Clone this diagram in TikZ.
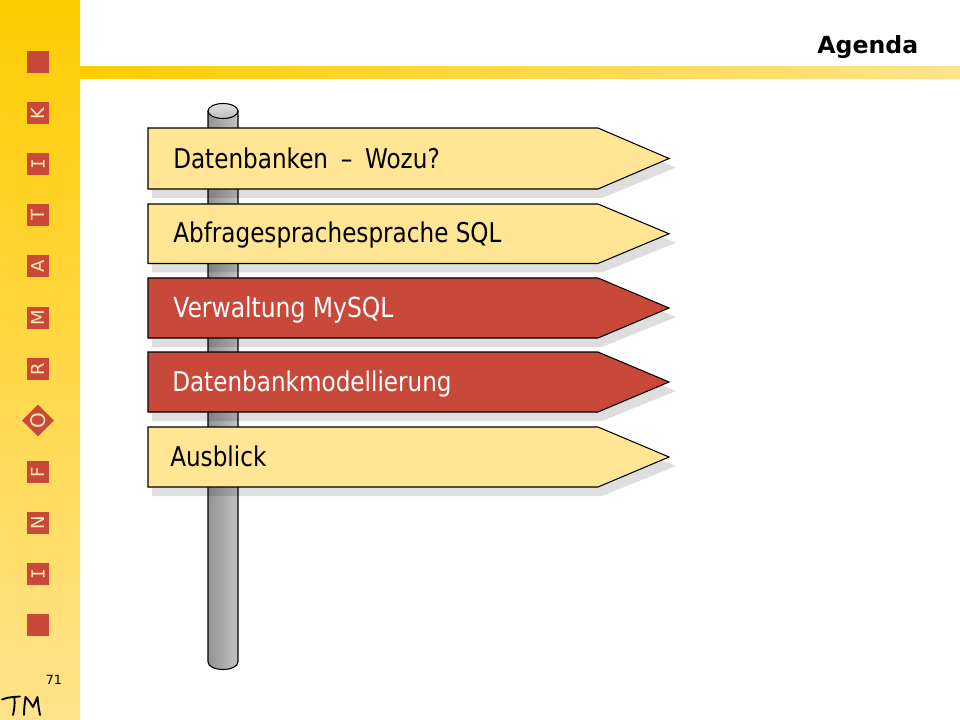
\documentclass[tikz,border=0pt]{standalone}
\usepackage{fontspec}
\setmainfont{DejaVu Sans}[FakeStretch=0.85]
\newfontfamily\smallfont{DejaVu Sans}
\newfontfamily\serifI{DejaVu Sans Mono}
\usetikzlibrary{shapes.geometric}
\definecolor{brick}{HTML}{C8493A}
\definecolor{signy}{HTML}{FFE594}
\definecolor{barA}{HTML}{FFCC00}
\definecolor{barB}{HTML}{FFE38C}
\definecolor{letter}{HTML}{FFE9B0}
\tikzset{
  x=0.75pt,y=-0.75pt,
  tile/.style={fill=brick,draw=none,minimum size=16.5pt,inner sep=0pt,text=letter,font=\smallfont\fontsize{13.5}{14}\selectfont,rotate=90},
  tilediamond/.style={fill=brick,draw=none,diamond,minimum size=24pt,inner sep=0pt,text=letter,font=\smallfont\fontsize{15}{16}\selectfont,rotate=90},
  signlabel/.style={anchor=base west,inner sep=0pt,font=\fontsize{20.4}{22}\selectfont},
}
\newcommand{\signpost}[3]{% top, bottom, fill
  \fill[black,opacity=0.13] (152,#1+9) -- (602,#1+9) -- (676,{(#1+#2)/2+9}) -- (602,#2+9) -- (152,#2+9) -- cycle;
  \draw[black,line width=0.8pt,fill=#3] (148,#1) -- (598,#1) -- (669,{(#1+#2)/2}) -- (598,#2) -- (148,#2) -- cycle;
}
\begin{document}
\begin{tikzpicture}
\useasboundingbox (0,0) rectangle (960,720);
\fill[white] (0,0) rectangle (960,720);
\shade[top color=barA,bottom color=barB,shading angle=0] (0,0) rectangle (80,720);
\shade[left color=barA,right color=barB] (80,67) rectangle (960,79);
% pole
\shade[left color=black!42,right color=black!24] (208,111) -- (208,662) arc[start angle=180,end angle=360,x radius=15,y radius=-7.5] -- (238,111) -- cycle;
\draw[black,line width=0.8pt] (208,111) -- (208,662) arc[start angle=180,end angle=360,x radius=15,y radius=-7.5] -- (238,111);
\draw[black,line width=0.8pt,top color=black!12,bottom color=black!26] (223,111) ellipse[x radius=15,y radius=7.5];
% signs
\signpost{128}{189}{signy}
\signpost{204}{263.5}{signy}
\signpost{278}{338}{brick}
\signpost{352}{412}{brick}
\signpost{427}{487}{signy}
\node[signlabel,text=black] (s1) at (173,168.5) {Datenbanken \hspace{4pt}–\hspace{4pt} Wozu?};
\node[signlabel,text=black] (s2) at (173,242.5) {Abfragesprachesprache SQL};
\node[signlabel,text=white,font=\fontsize{20.7}{22}\selectfont] (s3) at (173,317) {Verwaltung MySQL};
\node[signlabel,text=white] (s4) at (172,391) {Datenbankmodellierung};
\node[signlabel,text=black] (s5) at (170,466) {Ausblick};
% title
\node[anchor=base east,inner sep=0pt,font=\smallfont\bfseries\fontsize{17.7}{20}\selectfont] (title) at (918.5,54) {Agenda};
% side tiles
\node[tile] (t0) at (38,62.5) {};
\node[tile] (t1) at (38,113.5) {K};
\node[tile,font=\serifI\fontsize{13.5}{14}\selectfont] (t2) at (38,164.5) {I};
\node[tile] (t3) at (38,215.5) {T};
\node[tile] (t4) at (38,266.5) {A};
\node[tile] (t5) at (38,318) {M};
\node[tile] (t6) at (38,369) {R};
\node[tilediamond] (t7) at (38,420.5) {O};
\node[tile] (t8) at (38,472) {F};
\node[tile] (t9) at (38,523) {N};
\node[tile,font=\serifI\fontsize{13.5}{14}\selectfont] (t10) at (38,574) {I};
\node[tile] (t11) at (38,625) {};
\node[anchor=base,inner sep=0pt,font=\smallfont\fontsize{9.5}{10}\selectfont] (page) at (54,684) {71};
% signature
\draw[black,line width=1.4pt,line cap=round,line join=round]
  (2,699.5) .. controls (8,697) and (14,697) .. (20,696.5)
  (14.5,698) .. controls (15,705) and (14,711) .. (13,715);
\draw[black,line width=1.4pt,line cap=round,line join=round]
  (24,715) .. controls (24,708) and (25,702) .. (25.5,697)
  .. controls (29,700) and (31,704) .. (33,707)
  .. controls (35,703) and (36,700) .. (37.5,697)
  .. controls (38,704) and (39,710) .. (40,715);
\end{tikzpicture}
\end{document}
